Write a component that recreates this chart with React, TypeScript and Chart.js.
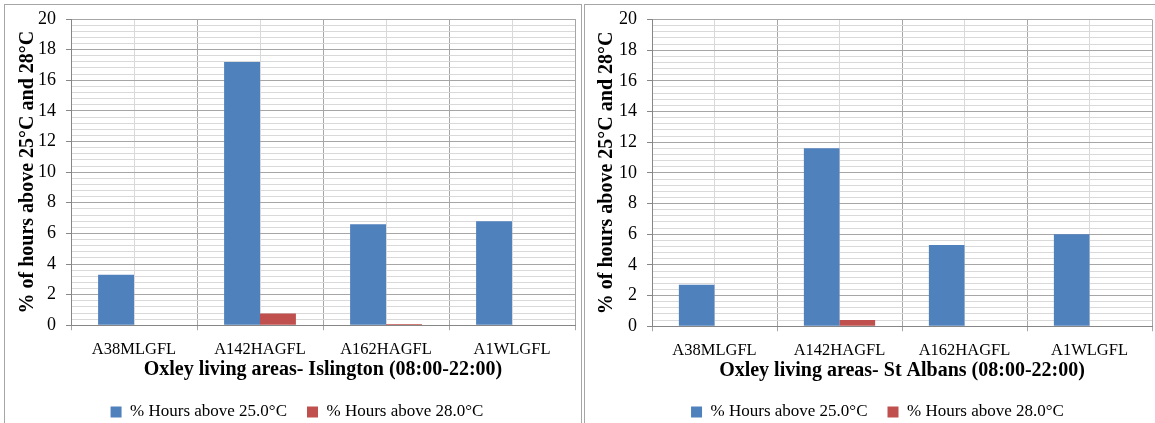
import React, { useEffect, useRef } from "react";
import { Chart, registerables } from "chart.js";

Chart.register(...registerables);

// ---- data ----
const categories = ["A38MLGFL", "A142HAGFL", "A162HAGFL", "A1WLGFL"];
const seriesNames = ["% Hours above 25.0°C", "% Hours above 28.0°C"];

const islingtonAbove25 = [3.3, 17.2, 6.6, 6.8];
const islingtonAbove28 = [0, 0.77, 0.08, 0];

const stAlbansAbove25 = [2.7, 11.6, 5.3, 6.0];
const stAlbansAbove28 = [0, 0.4, 0, 0];

const yMin = 0;
const yMax = 20;
const yLabelStep = 2;
const yMinorStep = 0.4;

const yAxisTitle = "% of hours above 25°C and 28°C";
const islingtonTitle = "Oxley living areas- Islington (08:00-22:00)";
const stAlbansTitle = "Oxley living areas- St Albans (08:00-22:00)";

// ---- styling ----
const FONT = "'Liberation Serif', 'Times New Roman', serif";
const BLUE = "#4f81bd";
const RED = "#c0504d";
const GRID_MAJOR = "#a6a6a6";
const GRID_MINOR = "#d9d9d9";
const AXIS_LINE = "#868686";
const PANEL_BORDER = "#a6a6a6";

const isLabelled = (v: number | undefined) =>
  v !== undefined && Math.abs(v / yLabelStep - Math.round(v / yLabelStep)) < 1e-6;

type PanelProps = {
  above25: number[];
  above28: number[];
  xTitle: string;
  padLeft: number;
  axisWidth: number;
  yTitlePad: number;
  padTop: number;
  padRight: number;
  xTitlePadBottom: number;
  width: number;
  height: number;
};

function BarPanel(p: PanelProps) {
  const ref = useRef<HTMLCanvasElement>(null);

  useEffect(() => {
    if (!ref.current) return;
    const chart = new Chart(ref.current, {
      type: "bar",
      data: {
        labels: categories,
        datasets: [
          {
            label: seriesNames[0],
            data: p.above25,
            backgroundColor: BLUE,
            borderWidth: 0,
            xAxisID: "x",
            categoryPercentage: 0.57,
            barPercentage: 1,
          },
          {
            label: seriesNames[1],
            data: p.above28,
            backgroundColor: RED,
            borderWidth: 0,
            xAxisID: "x",
            categoryPercentage: 0.57,
            barPercentage: 1,
          },
        ],
      },
      options: {
        responsive: false,
        animation: false,
        layout: { padding: { top: p.padTop, left: p.padLeft, right: p.padRight, bottom: 4.5 } },
        plugins: {
          tooltip: { enabled: false },
          legend: {
            position: "bottom",
            labels: {
              color: "#000",
              font: { family: FONT, size: 17 },
              boxWidth: 11,
              boxHeight: 11,
              padding: 20,
            },
          },
        },
        scales: {
          x: {
            type: "category",
            offset: true,
            grid: {
              offset: true,
              color: GRID_MAJOR,
              tickColor: GRID_MAJOR,
              tickLength: 5,
              drawTicks: true,
            },
            border: { color: AXIS_LINE, width: 1 },
            ticks: {
              color: "#000",
              font: { family: FONT, size: 16.5, lineHeight: 1 },
              padding: 10.75,
              maxRotation: 0,
              autoSkip: false,
            },
            title: {
              display: true,
              text: p.xTitle,
              color: "#000",
              font: { family: FONT, size: 20, weight: "bold", lineHeight: 0.125 },
              padding: { top: 0, bottom: p.xTitlePadBottom },
            },
          },
          // light lines through the middle of each category
          x2: {
            type: "category",
            position: "bottom",
            offset: true,
            grid: { offset: false, color: GRID_MINOR, drawTicks: false },
            border: { display: false },
            ticks: { display: false },
          },
          y: {
            min: yMin,
            max: yMax,
            ticks: {
              stepSize: yMinorStep,
              autoSkip: false,
              color: "#000",
              font: { family: FONT, size: 18, lineHeight: 0.4 },
              padding: 10,
              callback: (v) => (isLabelled(Number(v)) ? String(Math.round(Number(v))) : ""),
            },
            grid: {
              color: (c: any) => (isLabelled(c.tick?.value) ? GRID_MAJOR : GRID_MINOR),
              tickColor: (c: any) => (isLabelled(c.tick?.value) ? AXIS_LINE : "rgba(0,0,0,0)"),
              tickLength: 5,
            },
            border: { color: AXIS_LINE, width: 1 },
            title: {
              display: true,
              text: yAxisTitle,
              color: "#000",
              font: { family: FONT, size: 20, weight: "bold", lineHeight: 0.2 },
              padding: { top: p.yTitlePad, bottom: 0 },
            },
            afterFit: (scale: any) => {
              scale.width = p.axisWidth;
            },
          },
        },
      },
    });
    return () => chart.destroy();
  }, [p]);

  return (
    <canvas ref={ref} width={p.width} height={p.height} style={{ width: p.width, height: p.height, display: "block" }} />
  );
}

const islingtonPanel: PanelProps = {
  above25: islingtonAbove25,
  above28: islingtonAbove28,
  xTitle: islingtonTitle,
  padLeft: 14,
  axisWidth: 52,
  yTitlePad: 7,
  padTop: 14,
  padRight: 6,
  xTitlePadBottom: 12.75,
  width: 576,
  height: 430,
};

const stAlbansPanel: PanelProps = {
  above25: stAlbansAbove25,
  above28: stAlbansAbove28,
  xTitle: stAlbansTitle,
  padLeft: 18,
  axisWidth: 49,
  yTitlePad: 2,
  padTop: 14.5,
  padRight: 11,
  xTitlePadBottom: 11.75,
  width: 578,
  height: 430,
};

export default function App() {
  return (
    <div
      style={{
        position: "absolute",
        left: 0,
        top: 0,
        width: 1155,
        height: 423,
        overflow: "hidden",
        background: "#fff",
      }}
    >
      <div
        style={{
          position: "absolute",
          left: 4,
          top: 4,
          width: 578,
          height: 480,
          boxSizing: "border-box",
          border: `1px solid ${PANEL_BORDER}`,
        }}
      />
      <div
        style={{
          position: "absolute",
          left: 584,
          top: 4,
          width: 580,
          height: 480,
          boxSizing: "border-box",
          border: `1px solid ${PANEL_BORDER}`,
        }}
      />
      <div style={{ position: "absolute", left: 5, top: 5 }}>
        <BarPanel {...islingtonPanel} />
      </div>
      <div style={{ position: "absolute", left: 585, top: 5 }}>
        <BarPanel {...stAlbansPanel} />
      </div>
    </div>
  );
}
